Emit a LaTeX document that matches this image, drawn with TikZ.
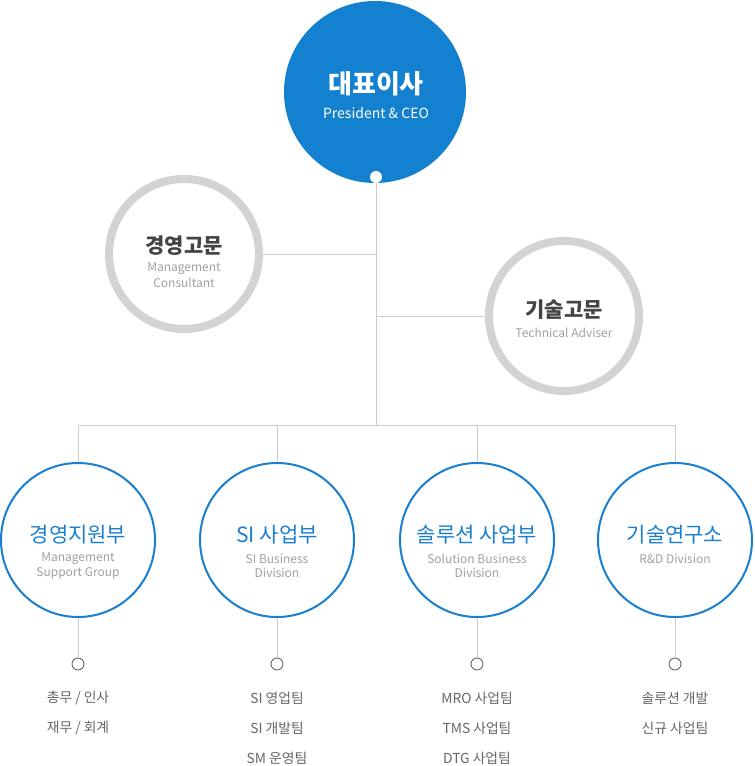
\documentclass[tikz,border=0pt]{standalone}
\usepackage{fontspec}
\setmainfont{Noto Sans CJK KR}
\definecolor{ceoblue}{HTML}{1380D0}
\definecolor{divblue}{HTML}{1A7FCF}
\definecolor{ringgray}{HTML}{D3D3D3}
\definecolor{linegray}{HTML}{CCCCCC}
\definecolor{titlegray}{HTML}{444444}
\definecolor{subgray}{HTML}{A0A0A0}
\definecolor{listgray}{HTML}{666666}
\begin{document}
\begin{tikzpicture}[x=1pt,y=-1pt,
  ceobox/.style={circle,fill=ceoblue,minimum size=182pt,inner sep=0pt},
  advbox/.style={circle,draw=ringgray,line width=8pt,minimum size=150pt,inner sep=0pt},
  divbox/.style={circle,draw=divblue,line width=2pt,minimum size=154pt,inner sep=0pt},
  subdot/.style={circle,draw=listgray,line width=0.9pt,fill=white,minimum size=12pt,inner sep=0pt},
  topdot/.style={circle,fill=white,minimum size=12pt,inner sep=0pt},
  conn/.style={draw=linegray,line width=1pt},
  ceotitle/.style={font=\fontsize{26}{29}\selectfont\bfseries,text=white,inner sep=0pt},
  ceosub/.style={font=\fontsize{14}{16}\selectfont,text=white,inner sep=0pt},
  advtitle/.style={font=\fontsize{21}{24}\selectfont\bfseries,text=titlegray,inner sep=0pt},
  advsub/.style={font=\fontsize{12}{14}\selectfont,text=subgray,inner sep=0pt},
  divtitle/.style={font=\fontsize{21}{24}\selectfont,text=divblue,inner sep=0pt},
  divsub/.style={font=\fontsize{12}{14}\selectfont,text=subgray,inner sep=0pt},
  listtext/.style={font=\fontsize{13.8}{16}\selectfont,text=listgray,inner sep=0pt}
]
\useasboundingbox (0,0) rectangle (755,766);
% CEO
\node[ceobox] (ceo) at (375,92) {};
\node[ceotitle] (ceot) at (376,84) {대표이사};
\node[ceosub] (ceos) at (376,113) {President \& CEO};
\node[topdot] (tdot) at (376,177) {};
% advisors
\node[advbox] (adv1) at (184,254) {};
\node[advtitle] (adv1t) at (184,246) {경영고문};
\node[advsub] (adv1s) at (184,269) {Management};
\node[advsub] (adv1u) at (184,283) {Consultant};
\node[advbox] (adv2) at (564,316) {};
\node[advtitle] (adv2t) at (564,310) {기술고문};
\node[advsub] (adv2s) at (564,333) {Technical Adviser};
% bus
\coordinate (bus) at (376,425);
% divisions
\node[divbox] (d1) at (78,540) {};
\node[divbox] (d2) at (277,540) {};
\node[divbox] (d3) at (477,540) {};
\node[divbox] (d4) at (675,540) {};
\node[divtitle] (d1t) at (78,535) {경영지원부};
\node[divsub] (d1s) at (78,559) {Management};
\node[divsub] (d1u) at (78,573) {Support Group};
\node[divtitle] (d2t) at (277,535) {SI 사업부};
\node[divsub] (d2s) at (277,559) {SI Business};
\node[divsub] (d2u) at (277,573) {Division};
\node[divtitle] (d3t) at (477,535) {솔루션 사업부};
\node[divsub] (d3s) at (477,559) {Solution Business};
\node[divsub] (d3u) at (477,573) {Division};
\node[divtitle] (d4t) at (675,535) {기술연구소};
\node[divsub] (d4s) at (675,559) {R\&D Division};
% sub dots
\node[subdot] (s1) at (78,664) {};
\node[subdot] (s2) at (277,664) {};
\node[subdot] (s3) at (477,664) {};
\node[subdot] (s4) at (675,664) {};
% lists
\node[listtext] (l11) at (78,698) {총무 / 인사};
\node[listtext] (l12) at (78,728) {재무 / 회계};
\node[listtext] (l21) at (277,698) {SI 영업팀};
\node[listtext] (l22) at (277,728) {SI 개발팀};
\node[listtext] (l23) at (277,758) {SM 운영팀};
\node[listtext] (l31) at (477,698) {MRO 사업팀};
\node[listtext] (l32) at (477,728) {TMS 사업팀};
\node[listtext] (l33) at (477,758) {DTG 사업팀};
\node[listtext] (l41) at (675,698) {솔루션 개발};
\node[listtext] (l42) at (675,728) {신규 사업팀};
% connectors
\path[conn] (tdot.south) -- (bus);
\path[conn] (adv1.east) -- (adv1.east -| bus);
\path[conn] (adv2.west) -- (adv2.west -| bus);
\path[conn] (d1.north |- bus) -- (d4.north |- bus);
\path[conn] (d1.north |- bus) -- (d1.north);
\path[conn] (d2.north |- bus) -- (d2.north);
\path[conn] (d3.north |- bus) -- (d3.north);
\path[conn] (d4.north |- bus) -- (d4.north);
\path[conn] (d1.south) -- (s1.north);
\path[conn] (d2.south) -- (s2.north);
\path[conn] (d3.south) -- (s3.north);
\path[conn] (d4.south) -- (s4.north);
\end{tikzpicture}
\end{document}
